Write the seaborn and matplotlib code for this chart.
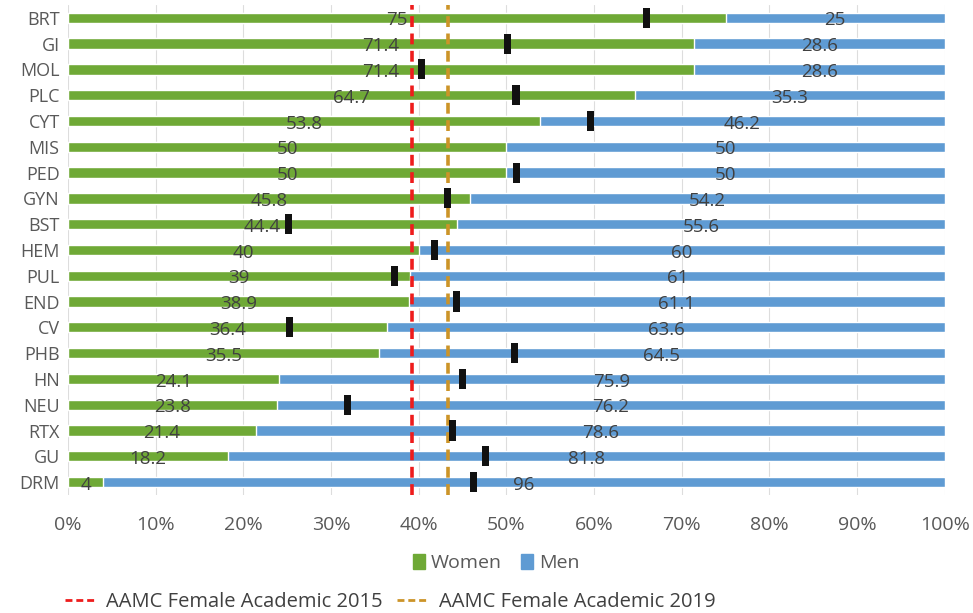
import matplotlib
matplotlib.use("Agg")
import matplotlib.pyplot as plt
from matplotlib.lines import Line2D
from matplotlib.patches import Patch
import seaborn as sns
import pandas as pd

specialties = ["BRT", "GI", "MOL", "PLC", "CYT", "MIS", "PED", "GYN", "BST", "HEM",
               "PUL", "END", "CV", "PHB", "HN", "NEU", "RTX", "GU", "DRM"]
women = [75, 71.4, 71.4, 64.7, 53.8, 50, 50, 45.8, 44.4, 40,
         39, 38.9, 36.4, 35.5, 24.1, 23.8, 21.4, 18.2, 4]
men = [25, 28.6, 28.6, 35.3, 46.2, 50, 50, 54.2, 55.6, 60,
       61, 61.1, 63.6, 64.5, 75.9, 76.2, 78.6, 81.8, 96]
# black markers (None = no marker)
markers = [66.0, 50.1, 40.3, 51.1, 59.6, None, 51.2, 43.3, 25.2, 41.8,
           37.2, 44.3, 25.3, 50.9, 45.0, 31.9, 43.9, 47.6, 46.3]
aamc_2015 = 39.2
aamc_2019 = 43.3

GREEN = "#6fa936"
BLUE = "#5f9bd3"
RED = "#ee1c1c"
GOLD = "#cc9428"
TEXT = "#404040"

sns.set_style("white")
plt.rcParams["font.family"] = ["Open Sans", "DejaVu Sans"]

df = pd.DataFrame({"spec": specialties, "women": women, "men": men})
df["total"] = df["women"] + df["men"]

fig = plt.figure(figsize=(9.73, 6.13), dpi=100)
ax = fig.add_axes([0.0699, 0.1925, 0.901, 0.7995])

sns.barplot(data=df, y="spec", x="total", color=BLUE, orient="h",
            width=0.4, saturation=1, ax=ax, zorder=2)
sns.barplot(data=df, y="spec", x="women", color=GREEN, orient="h",
            width=0.4, saturation=1, ax=ax, zorder=2)

for i, (w, m) in enumerate(zip(women, men)):
    ax.text(w / 2, i + 0.1, f"{w:g}", ha="center", va="center",
            fontsize=13.5, color=TEXT, zorder=5)
    ax.text(w + m / 2, i + 0.1, f"{m:g}", ha="center", va="center",
            fontsize=13.5, color=TEXT, zorder=5)

mk = pd.DataFrame({"spec": specialties, "val": markers}).dropna()
rect = [(-0.35, -1), (0.35, -1), (0.35, 1), (-0.35, 1), (-0.35, -1)]
sns.scatterplot(data=mk, x="val", y="spec", marker=rect, s=210,
                color="#111111", edgecolor="none", ax=ax, zorder=6)

ax.axvline(aamc_2015, color=RED, lw=2.6, dashes=(3, 1.8), zorder=4)
ax.axvline(aamc_2019, color=GOLD, lw=2.6, dashes=(3, 1.8), zorder=4)

ax.set_xlim(0, 100)
ax.set_ylim(18.5, -0.5)
ax.set_xticks(range(0, 101, 10))
ax.set_xticklabels([f"{t}%" for t in range(0, 101, 10)])
ax.grid(axis="x", color="#dddddd", lw=0.8, zorder=0)
ax.set_axisbelow(True)
ax.set_xlabel("")
ax.set_ylabel("")
sns.despine(ax=ax, left=True, bottom=True)
ax.tick_params(axis="x", labelsize=14, colors="#595959", length=0, pad=15)
ax.tick_params(axis="y", labelsize=13, colors="#595959", length=0, pad=6)

fig.legend(handles=[Patch(color=GREEN, label="Women"),
                    Patch(color=BLUE, label="Men")],
           loc="center", bbox_to_anchor=(0.51, 0.0816), ncol=2,
           frameon=False, fontsize=14, handlelength=0.6, handleheight=0.8,
           handletextpad=0.3, columnspacing=1.0, labelcolor="#595959")
fig.legend(handles=[Line2D([], [], color=RED, lw=2, dashes=(2.5, 1.4),
                           label="AAMC Female Academic 2015"),
                    Line2D([], [], color=GOLD, lw=2, dashes=(2.5, 1.4),
                           label="AAMC Female Academic 2019")],
           loc="center", bbox_to_anchor=(0.401, 0.018), ncol=2,
           frameon=False, fontsize=14.5, handlelength=1.55, handletextpad=0.5,
           columnspacing=0.7, labelcolor="#404040")

fig.savefig("out.png", dpi=100)
